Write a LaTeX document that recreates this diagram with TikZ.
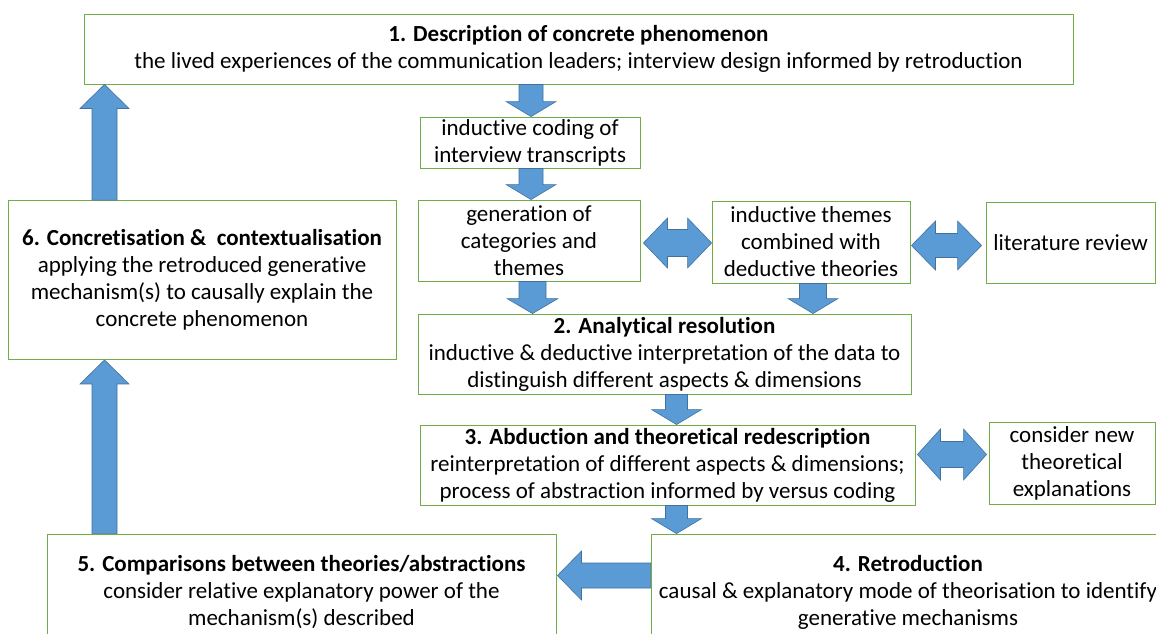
\documentclass[tikz,border=0pt]{standalone}
\usepackage{fontspec}
\setmainfont[Ligatures={NoCommon}]{Carlito}
\usetikzlibrary{calc}
\definecolor{boxgreen}{HTML}{70AD47}
\definecolor{arrowblue}{HTML}{5B9BD5}
\definecolor{arrowedge}{HTML}{41719C}
\tikzset{
  box/.style={draw=boxgreen, line width=0.9pt, fill=white, inner sep=0pt, align=center,
    font=\fontsize{23}{27}\selectfont},
  blk/.style={fill=arrowblue, draw=arrowedge, line width=0.6pt, line join=miter}
}
% #1 x, #2 from node, #3 to node, #4 shaft half, #5 head half, #6 head length
\newcommand\DownArrow[6]{%
  \coordinate (T) at (#1,0 |- #2.south);
  \coordinate (B) at (#1,0 |- #3.north);
  \filldraw[blk] ($(T)+(-#4,0)$) -- ($(T)+(#4,0)$) -- ($(B)+(#4,-#6)$) -- ($(B)+(#5,-#6)$) -- (B)
     -- ($(B)+(-#5,-#6)$) -- ($(B)+(-#4,-#6)$) -- cycle;}
\newcommand\UpArrow[6]{%
  \coordinate (T) at (#1,0 |- #2.north);
  \coordinate (B) at (#1,0 |- #3.south);
  \filldraw[blk] ($(T)+(-#4,0)$) -- ($(T)+(#4,0)$) -- ($(B)+(#4,#6)$) -- ($(B)+(#5,#6)$) -- (B)
     -- ($(B)+(-#5,#6)$) -- ($(B)+(-#4,#6)$) -- cycle;}
% #1 left node #2 right node #3 y #4 shaft half #5 head half #6 head len #7 left gap #8 right gap
\newcommand\DblArrow[8]{%
  \coordinate (L) at ($(#1.east |- 0,#3)+(#7,0)$);
  \coordinate (R) at ($(#2.west |- 0,#3)+(-#8,0)$);
  \filldraw[blk] (L) -- ($(L)+(#6,-#5)$) -- ($(L)+(#6,-#4)$) -- ($(R)+(-#6,-#4)$) -- ($(R)+(-#6,-#5)$)
     -- (R) -- ($(R)+(-#6,#5)$) -- ($(R)+(-#6,#4)$) -- ($(L)+(#6,#4)$) -- ($(L)+(#6,#5)$) -- cycle;}
\begin{document}
\begin{tikzpicture}[x=1pt,y=-1pt]
\clip (0,0) rectangle (1156,634);
\fill[white] (0,0) rectangle (1156,634);

\node[box, minimum width=989pt, minimum height=70pt] (b1) at (578.5,49)
  {\textbf{1. Description of concrete phenomenon}\\the lived experiences of the communication leaders; interview design informed by retroduction};
\node[box, minimum width=220pt, minimum height=51pt] (cod) at (530,142.5)
  {inductive coding of\\interview transcripts};
\node[box, minimum width=222pt, minimum height=81pt] (gen) at (529,240.5)
  {generation of\\categories and\\themes};
\node[box, minimum width=198pt, minimum height=82pt] (ind) at (811,242)
  {inductive themes\\combined with\\deductive theories};
\node[box, minimum width=169pt, minimum height=81pt] (lit) at (1070.5,242.5)
  {literature review};
\node[box, minimum width=493pt, minimum height=80pt] (b2) at (664.5,354)
  {\textbf{2. Analytical resolution}\\inductive \& deductive interpretation of the data to\\distinguish different aspects \& dimensions};
\node[box, minimum width=495pt, minimum height=80pt] (b3) at (667.5,465)
  {\textbf{3. Abduction and theoretical redescription}\\reinterpretation of different aspects \& dimensions;\\process of abstraction informed by versus coding};
\node[box, minimum width=166pt, minimum height=82pt] (cons) at (1072,463)
  {consider new\\theoretical\\explanations};
\node[box, minimum width=514pt, minimum height=116pt] (b4) at (908,592)
  {\textbf{4. Retroduction}\\causal \& explanatory mode of theorisation to identify\\generative mechanisms};
\node[box, minimum width=509pt, minimum height=116pt] (b5) at (301.5,592)
  {\textbf{5. Comparisons between theories/abstractions}\\consider relative explanatory power of the\\mechanism(s) described};
\node[box, minimum width=388pt, minimum height=159pt] (b6) at (202,280)
  {\textbf{6. Concretisation \& \ contextualisation}\\applying the retroduced generative\\mechanism(s) to causally explain the\\concrete phenomenon};

\DownArrow{531}{b1}{cod}{12}{25}{15}
\DownArrow{531}{cod}{gen}{12}{25}{15}
\DownArrow{532.5}{gen}{b2}{13.5}{25.5}{15}
\DownArrow{813}{ind}{b2}{13.5}{25}{15}
\DownArrow{676.5}{b2}{b3}{11}{25}{15}
\DownArrow{676.5}{b3}{b4}{11}{25}{15}
\UpArrow{104.5}{b6}{b1}{12.5}{24.5}{24}
\UpArrow{104.5}{b5}{b6}{12.5}{24.5}{24}
\DblArrow{gen}{ind}{243}{13.5}{25}{24}{3}{0}
\DblArrow{ind}{lit}{245.5}{12}{24.5}{24}{1}{4}
\DblArrow{b3}{cons}{454.5}{13}{25.5}{23}{2}{2}
\coordinate (S) at (b4.west |- 0,575.5);
\coordinate (P) at ($(b5.east |- 0,575.5)+(1,0)$);
\filldraw[blk] ($(S)+(0,-12.5)$) -- ($(S)+(0,12.5)$) -- ($(P)+(24,12.5)$) -- ($(P)+(24,24.5)$) -- (P)
  -- ($(P)+(24,-24.5)$) -- ($(P)+(24,-12.5)$) -- cycle;
\end{tikzpicture}
\end{document}
